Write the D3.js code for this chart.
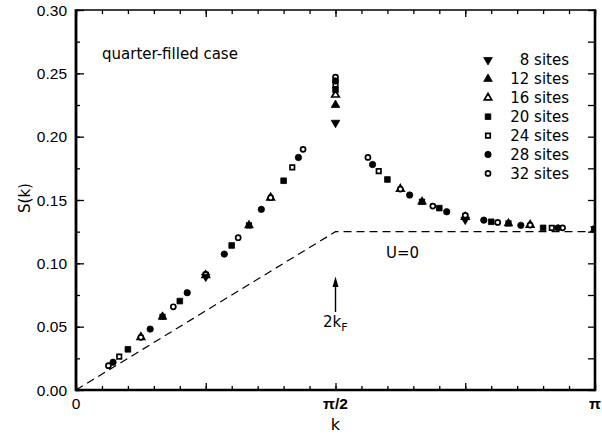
<!DOCTYPE html>
<html><head><meta charset="utf-8">
<script src="https://cdn.jsdelivr.net/npm/d3@7"></script>
<style>
html,body{margin:0;padding:0;background:#fff;}
svg{display:block;}
text{font-family:"DejaVu Sans",sans-serif;fill:#000;}
</style></head>
<body>
<svg id="c" width="602" height="435"></svg>
<script>
// ---- data (k in units of pi) ----
const sizes = ["8 sites","12 sites","16 sites","20 sites","24 sites","28 sites","32 sites"];
const k8  = [0.25, 0.5, 0.75, 1.0];
const s8  = [0.0895, 0.211, 0.1345, 0.127];
const k12 = [0.1667, 0.3333, 0.5, 0.6667, 0.8333, 1.0];
const s12 = [0.0578, 0.130, 0.225, 0.1486, 0.1315, 0.127];
const k16 = [0.125, 0.25, 0.375, 0.5, 0.625, 0.75, 0.875, 1.0];
const s16 = [0.0416, 0.0905, 0.1518, 0.233, 0.1586, 0.1365, 0.1302, 0.127];
const k20 = [0.1, 0.2, 0.3, 0.4, 0.5, 0.6, 0.7, 0.8, 0.9, 1.0];
const s20 = [0.0321, 0.0702, 0.1141, 0.1652, 0.237, 0.1662, 0.1436, 0.1328, 0.128, 0.127];
const k24 = [0.0833, 0.1667, 0.25, 0.3333, 0.4167, 0.5, 0.5833, 0.6667, 0.75, 0.8333, 0.9167, 1.0];
const s24 = [0.0263, 0.0578, 0.091, 0.130, 0.1757, 0.241, 0.1728, 0.1486, 0.1372, 0.1315, 0.128, 0.127];
const k28 = [0.0714, 0.1429, 0.2143, 0.2857, 0.3571, 0.4286, 0.5, 0.5714, 0.6429, 0.7143, 0.7857, 0.8571, 0.9286, 1.0];
const s28 = [0.0219, 0.0481, 0.0768, 0.1073, 0.1426, 0.1836, 0.244, 0.178, 0.1539, 0.1407, 0.1341, 0.130, 0.128, 0.127];
const k32 = [0.0625, 0.125, 0.1875, 0.25, 0.3125, 0.375, 0.4375, 0.5, 0.5625, 0.625, 0.6875, 0.75, 0.8125, 0.875, 0.9375, 1.0];
const s32 = [0.0192, 0.0416, 0.0657, 0.0912, 0.1202, 0.1518, 0.190, 0.247, 0.1836, 0.1586, 0.1452, 0.1378, 0.1323, 0.1302, 0.128, 0.127];
const kSeries = [k8, k12, k16, k20, k24, k28, k32];
const sSeries = [s8, s12, s16, s20, s24, s28, s32];
// U=0 reference line
const uK = [0, 0.5, 1.0];
const uS = [0, 0.125, 0.125];
const yTickLabels = ["0.00","0.05","0.10","0.15","0.20","0.25","0.30"];
const yTickValues = [0, 0.05, 0.10, 0.15, 0.20, 0.25, 0.30];
const xTickLabels = ["0","π/2","π"];
const xTickValues = [0, 0.5, 1.0];

// ---- layout ----
const L = 76, R = 595, T = 10, B = 390;
const x = d3.scaleLinear().domain([0, 1]).range([L, R]);
const y = d3.scaleLinear().domain([0, 0.30]).range([B, T]);
const svg = d3.select("#c");

svg.append("defs").append("clipPath").attr("id","clip")
  .append("rect").attr("x",L).attr("y",T).attr("width",R-L).attr("height",B-T);

const styles = [
  {type:d3.symbolTriangle, fill:true, rot:180, size:32},
  {type:d3.symbolTriangle, fill:true, rot:0, size:32},
  {type:d3.symbolTriangle, fill:false, rot:0, size:24},
  {type:d3.symbolSquare, fill:true, rot:0, size:32},
  {type:d3.symbolSquare, fill:false, rot:0, size:20},
  {type:d3.symbolCircle, fill:true, rot:0, size:32},
  {type:d3.symbolCircle, fill:false, rot:0, size:20}
];
function drawSym(g, st, cx, cy){
  g.append("path")
    .attr("d", d3.symbol().type(st.type).size(st.size)())
    .attr("transform", `translate(${cx},${cy}) rotate(${st.rot})`)
    .attr("fill", st.fill ? "#000" : "#fff")
    .attr("stroke", "#000")
    .attr("stroke-width", st.fill ? 0.8 : 1.7);
}

// ---- axes ----
const minorX = d3.range(0, 1.0001, 0.05);
const majorX = [0, 0.25, 0.5, 0.75, 1.0];
const minorY = d3.range(0, 0.3001, 0.025);
const majorY = yTickValues;

function axisG(axis, tx, ty){
  const g = svg.append("g").attr("transform",`translate(${tx},${ty})`).call(axis);
  g.select(".domain").remove();
  g.selectAll("line").attr("stroke","#000").attr("stroke-width",1.3);
  g.selectAll("text").remove();
  return g;
}
axisG(d3.axisBottom(x).tickValues(minorX).tickSize(-4), 0, B);
axisG(d3.axisBottom(x).tickValues(majorX).tickSize(-7), 0, B);
axisG(d3.axisTop(x).tickValues(minorX).tickSize(-4), 0, T);
axisG(d3.axisTop(x).tickValues(majorX).tickSize(-7), 0, T);
axisG(d3.axisLeft(y).tickValues(minorY).tickSize(-4), L, 0);
axisG(d3.axisLeft(y).tickValues(majorY).tickSize(-8), L, 0);
axisG(d3.axisRight(y).tickValues(minorY).tickSize(-7), R, 0);

// frame
svg.append("line").attr("x1",L).attr("x2",R).attr("y1",T).attr("y2",T).attr("stroke","#000").attr("stroke-width",1.6);
svg.append("line").attr("x1",L).attr("x2",R).attr("y1",B).attr("y2",B).attr("stroke","#000").attr("stroke-width",2.6);
svg.append("line").attr("x1",L).attr("x2",L).attr("y1",T-0.8).attr("y2",B+1.3).attr("stroke","#000").attr("stroke-width",2.8);
svg.append("line").attr("x1",R).attr("x2",R).attr("y1",T-0.8).attr("y2",B+1.3).attr("stroke","#000").attr("stroke-width",2.6);

// tick labels
svg.selectAll(".yl").data(yTickValues).enter().append("text")
  .attr("x", L-9).attr("y", d=>y(d)).attr("dy","0.36em")
  .attr("text-anchor","end").style("font-family","'Liberation Sans',sans-serif").style("font-size","15.5px")
  .text((d,i)=>yTickLabels[i]);
svg.selectAll(".xl").data(xTickValues).enter().append("text")
  .attr("x", d=>x(d)).attr("y", 409)
  .attr("text-anchor","middle").style("font-family","'Liberation Sans',sans-serif").style("font-size","15.5px")
  .style("font-weight", (d,i)=> i>0 ? "bold" : "normal")
  .text((d,i)=>xTickLabels[i]);

// axis titles
svg.append("text").attr("x", x(0.5)).attr("y", 430).attr("text-anchor","middle")
  .style("font-size","16px").text("k");
svg.append("text").attr("transform","translate(30,198) rotate(-90)").attr("text-anchor","middle")
  .style("font-size","15px").text("S(k)");

// U=0 dashed line
svg.append("path")
  .datum(uK.map((k,i)=>[k,uS[i]]))
  .attr("d", d3.line().x(d=>x(d[0])).y(d=>y(d[1])))
  .attr("fill","none").attr("stroke","#000").attr("stroke-width",1.2)
  .attr("stroke-dasharray","8,5");

// data points: open symbols first, filled on top
const pts = svg.append("g").attr("clip-path","url(#clip)");
const order = [2, 4, 6, 0, 1, 3, 5];
order.forEach(si=>{
  kSeries[si].forEach((k, j)=> drawSym(pts, styles[si], x(k), y(sSeries[si][j])));
});

// annotations
svg.append("text").attr("x",102).attr("y",59).style("font-size","15px").text("quarter-filled case");
svg.append("text").attr("x",386).attr("y",258).style("font-size","15px").text("U=0");
const ax = x(0.5);
svg.append("line").attr("x1",ax).attr("x2",ax).attr("y1",312).attr("y2",284).attr("stroke","#000").attr("stroke-width",1.4);
svg.append("path").attr("d",`M${ax},276.5 L${ax-3},287 L${ax+3},287 Z`).attr("fill","#000");
const kf = svg.append("text").attr("x",323).attr("y",327).style("font-size","15px");
kf.append("tspan").text("2k");
kf.append("tspan").attr("dy",4).style("font-size","11px").text("F");

// legend
sizes.forEach((s,i)=>{
  const ly = 60 + i*18.9;
  drawSym(svg, styles[i], 488, ly);
  svg.append("text").attr("x",569).attr("y",ly).attr("dy","0.36em").attr("text-anchor","end")
    .style("font-size","15px").text(s);
});
</script>
</body></html>
